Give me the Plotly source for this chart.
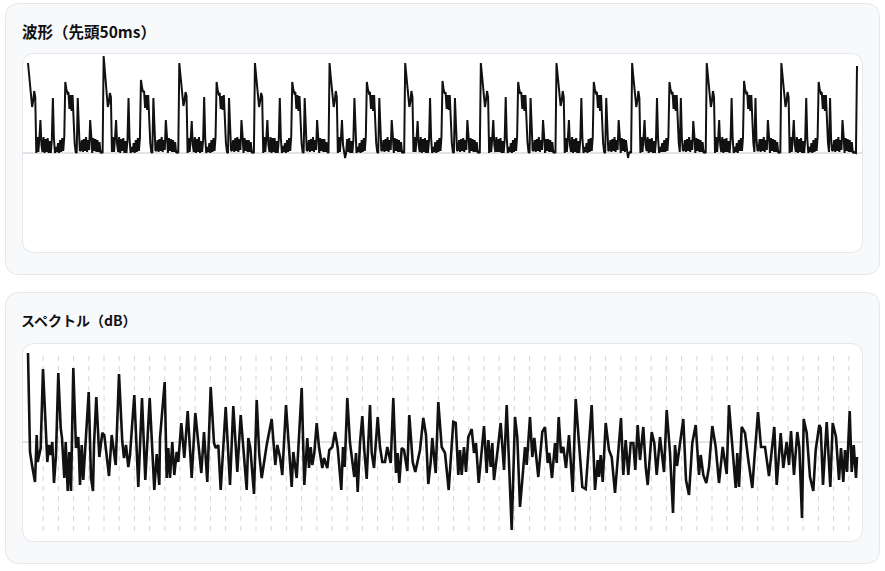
import plotly.graph_objects as go

WAVE_TITLE = "波形（先頭50ms）"
SPEC_TITLE = "スペクトル（dB）"

WAVE = [
 90,78,66,56,46,52,62,56,0,16,1,15,33,8,1,16,0,14,1,15,0,12,0,13,55,15,0,6,1,10,0,13,1,15,2,16,71,64,60,61,44,58,42,58,30,10,1,0,55,14,2,3,13,1,14,2,16,1,13,3,33,18,0,15,2,14,1,13,1,11,0,1,0,
 97,84,70,58,46,50,60,56,1,16,1,15,33,9,1,16,0,14,2,15,0,12,0,13,55,14,0,6,1,10,0,13,1,15,2,15,73,66,61,62,45,58,43,58,31,10,1,0,55,14,2,3,13,1,14,2,16,1,13,3,33,18,0,15,2,14,1,13,1,11,0,1,0,
 90,77,65,56,47,52,61,57,0,15,1,14,32,8,1,16,0,14,1,16,0,12,1,13,56,15,0,6,1,10,0,13,1,15,2,16,71,63,59,60,44,57,43,58,29,10,1,0,55,14,2,3,13,1,15,2,16,1,14,3,33,18,0,15,2,13,1,13,1,11,0,1,0,
 90,78,66,55,46,52,60,56,0,16,1,15,33,8,1,16,0,15,1,15,0,12,0,13,55,15,0,7,1,10,0,13,1,15,2,16,71,64,60,61,44,58,42,57,30,10,1,0,55,14,2,3,13,1,14,2,16,1,13,3,33,17,0,15,2,14,1,14,1,11,1,0,
 90,78,66,56,46,52,62,56,0,16,1,15,33,8,1,-5,0,14,1,15,0,12,0,13,55,15,0,6,1,10,0,13,1,15,2,16,71,64,60,61,44,58,42,58,30,10,1,0,55,14,2,3,13,1,14,2,16,1,13,3,33,18,0,15,2,14,1,13,1,11,0,1,0,
 90,78,65,56,46,51,62,56,1,16,1,15,32,8,1,16,0,14,1,15,0,13,0,13,55,15,0,6,1,11,0,13,1,15,2,16,72,64,60,60,44,58,43,58,30,10,1,0,55,14,2,3,13,1,14,2,15,1,13,3,33,18,0,15,2,14,1,13,1,11,0,1,0,
 90,78,66,56,46,53,62,56,0,16,1,15,33,8,1,16,1,14,1,15,0,12,0,13,56,15,0,6,1,10,0,13,1,15,2,16,71,64,59,61,44,58,42,58,30,11,1,0,55,15,2,3,13,1,14,2,16,1,13,3,33,18,0,14,2,14,1,13,1,11,0,1,0,
 90,78,66,56,47,52,62,56,0,15,1,15,33,8,1,16,0,14,1,15,0,12,0,14,55,15,0,6,1,10,0,14,1,15,2,16,71,64,60,61,45,58,42,58,30,10,1,0,55,14,2,3,13,1,14,2,16,1,13,3,33,18,0,15,2,14,1,13,1,-5,0,1,0,
 90,78,66,56,46,52,62,55,0,16,1,15,33,8,2,16,0,14,1,15,0,12,0,13,55,15,0,6,1,10,1,13,1,15,2,16,71,64,60,61,44,58,42,58,30,10,1,55,15,2,3,13,1,14,2,16,1,13,3,32,18,0,15,2,14,1,13,1,11,0,1,0,
 90,78,66,56,46,52,62,56,0,16,1,14,33,8,1,16,0,14,1,15,1,12,0,13,55,15,0,6,1,10,0,13,2,15,2,16,72,64,60,61,44,58,42,58,30,10,1,55,14,2,3,14,1,14,2,16,1,13,3,33,18,0,15,2,14,1,13,1,11,0,1,0,
 90,78,66,56,46,52,61,56,0,16,1,15,33,8,1,16,0,14,1,15,0,12,0,13,55,15,0,6,1,10,0,13,1,15,2,16,71,64,60,61,44,58,42,58,30,10,1,55,14,2,3,13,1,14,2,16,1,13,3,33,18,0,15,2,14,1,13,1,11,0,1,0,0,
 87,
]

FREQ = [
 0,2,4,7,8.7,9.7,12.7,15,17.3,19.3,21,22.7,24.3,26,28,30.3,32.7,34,36.3,37.7,39.7,41.3,43,45.3,48,50.3,52,53.7,55.3,
 60.7,63,65,66,68.3,71.3,72.7,74.3,76.3,78.7,81,83.7,87.7,91,94.3,96,98,100.3,102,106.3,110.3,114,117.3,121.7,126.3,
 128.7,131.3,132,136.7,138.7,140.3,142,144.3,146.3,148.7,150.3,153.3,156.3,159.7,163.7,167.3,173.3,176,179.3,182.7,186,
 187.7,190.3,192.7,197.7,202,205.3,209.3,212.7,218.7,220.3,222.3,226,228.7,231.3,233.7,238.7,243.7,247.3,249.3,252,
 254.3,258,263.7,265.3,268.7,
 273.7,276.3,279.3,281,282.7,284.3,286.3,288.7,291,294.3,296,299.3,301.3,304.3,307,309.7,313.3,315,316.7,319.3,322,
 323.7,326.3,328,329.7,332,334.3,336.3,338.7,342,343.7,346,349.7,352,354.3,357,359.3,362.7,365.3,368,369.7,371.3,
 373.7,376,379.3,381.3,384.7,387.3,392,395.3,398,400.3,402.7,404.3,407.7,410.3,413.7,417,418.7,420.7,425.3,427.7,
 430.3,432,433.7,436,438,440.3,443.7,446,448,450.7,456,458.7,460.3,462.7,464.3,466,469.3,472.7,476,478.7,483.7,487,
 489.3,492,494.3,497,498.7,502,504.3,506.3,510.3,514.3,517,519.7,521.3,524,527,528.7,530.7,533,535.3,538,541,544.7,
 547.7,551,554.3,557.7,563.7,567,
 569.7,571,572.7,574.7,577.7,581,583.7,587,590.3,593,595.3,597.7,600.3,602.7,605.3,607.3,609.7,612,615.3,617.7,
 619.7,623.7,626.3,628.7,632,636,638.7,642,645,647,649,655.3,658,661,664.3,667.7,671,672.7,675.3,678.3,681,684.3,
 687.7,691,694.7,698.7,701,704.3,707.7,709.3,711,713.7,717,720.3,724.3,726.3,730,733,737,741,746.3,748.7,752.7,
 755.3,758.7,761,763,766,769.3,771.3,774,775.7,778.7,782,785.3,787.7,791.3,792.7,795,798.7,802.3,804.7,808,811,813,
 815.3,817,819,821.7,823.7,825.7,828,829,
]
DB = [
 89,-10,-23,-40,7,-20,-6,73,24,-20,-3,-13,0,-41,-13,69,14,4,-36,0,-49,-10,-49,74,-6,5,-43,-3,-38,
 50,-36,-49,-3,45,-15,-5,9,7,-16,-34,7,-23,68,0,-16,-3,-25,-13,47,-45,44,-38,44,-48,
 -12,-43,4,60,-36,-6,-36,0,-33,-10,-20,19,-16,31,-36,29,-31,10,-40,55,-1,
 -6,-3,-48,35,-43,36,-30,27,-48,4,-6,-52,42,-13,-36,-3,23,-23,-3,-15,
 -33,37,-45,-10,-36,
 54,-43,4,-26,-5,-23,-11,19,-5,-26,-16,-26,-8,-5,10,-6,-48,-5,-25,44,-1,
 -15,-35,-11,-50,-1,26,-8,-37,37,-11,-26,25,-5,-20,-20,-5,-21,44,-31,-11,-41,
 -6,-8,-29,27,-20,-30,-8,24,7,-42,-20,4,-31,40,-5,-11,-31,-48,20,19,
 -33,-8,-33,-5,-30,5,13,-11,-1,-41,16,-31,2,-25,-1,-38,-11,19,-28,37,-88,25,
 5,-65,-38,-5,-23,25,-15,4,-35,10,15,-21,-11,-36,-1,-21,25,-11,-5,-26,7,-50,
 43,-5,-45,-47,37,-48,
 -18,-35,-13,-40,19,-8,-15,-51,-5,24,-33,2,-33,-1,-1,-28,17,-18,15,-25,
 -43,10,-1,-33,5,-30,32,-11,-71,-3,-24,23,-38,-53,-1,17,-33,-13,-33,-41,-25,16,
 -5,-41,-5,-32,37,-8,-46,-11,-45,15,9,-18,-46,-18,30,-5,-5,-34,15,-43,9,
 -26,0,-23,11,-33,10,-5,-76,23,9,-35,-49,-8,17,14,-43,20,-45,19,5,-38,-6,
 -40,-8,-30,31,-30,-3,-36,-15,
]
GRID_FREQ = [15.2*i for i in range(1, 55)]

W, H = 885, 571
CARD = "#f8f9fb"; BORDER = "#e5e7eb"; INK = "#111111"


def px(x, y):
    return f"{x / W:.5f},{1 - y / H:.5f}"


def rrect(x0, y0, x1, y1, r, fill):
    p = (f"M{px(x0+r,y0)} L{px(x1-r,y0)} Q{px(x1,y0)} {px(x1,y0+r)} L{px(x1,y1-r)} Q{px(x1,y1)} {px(x1-r,y1)} "
         f"L{px(x0+r,y1)} Q{px(x0,y1)} {px(x0,y1-r)} L{px(x0,y0+r)} Q{px(x0,y0)} {px(x0+r,y0)} Z")
    return dict(type="path", path=p, xref="paper", yref="paper", fillcolor=fill,
                line=dict(color=BORDER, width=1), layer="below")


fig = go.Figure()
fig.add_trace(go.Scatter(x=list(range(len(WAVE))), y=WAVE, mode="lines", xaxis="x", yaxis="y",
                         line=dict(color=INK, width=2), hoverinfo="skip"))
fig.add_trace(go.Scatter(x=FREQ, y=DB, mode="lines", xaxis="x2", yaxis="y2",
                         line=dict(color=INK, width=2.6), hoverinfo="skip"))

shapes = [
    rrect(5.5, 3.5, 879.5, 274.5, 14, CARD),
    rrect(22.5, 53.5, 862.5, 252.5, 12, "#ffffff"),
    rrect(5.5, 292.5, 879.5, 563.5, 14, CARD),
    rrect(22.5, 343.5, 862.5, 541.5, 12, "#ffffff"),
]
for f in GRID_FREQ:
    shapes.append(dict(type="line", xref="x2", yref="y2", x0=f, x1=f, y0=-89, y1=89, layer="below",
                       line=dict(color="#d4d6da", width=1, dash="5px,5px")))

hidden = dict(visible=True, showgrid=False, showticklabels=False, ticks="", showline=False)
wp = (857 - 28) / (len(WAVE) - 1)
fig.update_layout(
    width=W, height=H, margin=dict(l=0, r=0, t=0, b=0), autosize=False,
    paper_bgcolor="#ffffff", plot_bgcolor="rgba(0,0,0,0)", showlegend=False, shapes=shapes,
    xaxis=dict(**hidden, zeroline=False, domain=[22.5 / W, 862.5 / W], range=[-5.5 / wp, len(WAVE) - 1 + 5.5 / wp]),
    yaxis=dict(**hidden, zeroline=True, zerolinecolor="#e2e3e6", zerolinewidth=1.5,
               domain=[1 - 253 / H, 1 - 53 / H], range=[-100, 100]),
    xaxis2=dict(**hidden, zeroline=False, anchor="y2", domain=[22.5 / W, 862.5 / W], range=[-5.5, 834.5]),
    yaxis2=dict(**hidden, zeroline=True, zerolinecolor="#e2e3e6", zerolinewidth=1.5, anchor="x2",
                domain=[1 - 541 / H, 1 - 343 / H], range=[-99, 99]),
    annotations=[
        dict(text=f"<b>{WAVE_TITLE}</b>", xref="paper", yref="paper", x=19.5 / W, y=1 - 31.5 / H,
             xanchor="left", yanchor="middle", showarrow=False,
             font=dict(family="Noto Sans CJK JP", size=15.5, color=INK)),
        dict(text=f"<b>{SPEC_TITLE}</b>", xref="paper", yref="paper", x=18.5 / W, y=1 - 319.5 / H,
             xanchor="left", yanchor="middle", showarrow=False,
             font=dict(family="Noto Sans CJK JP", size=14, color=INK)),
    ],
)
fig.write_html("out.html", post_script="document.body.style.margin='0';document.documentElement.style.overflow='hidden';",
               config=dict(displayModeBar=False))
